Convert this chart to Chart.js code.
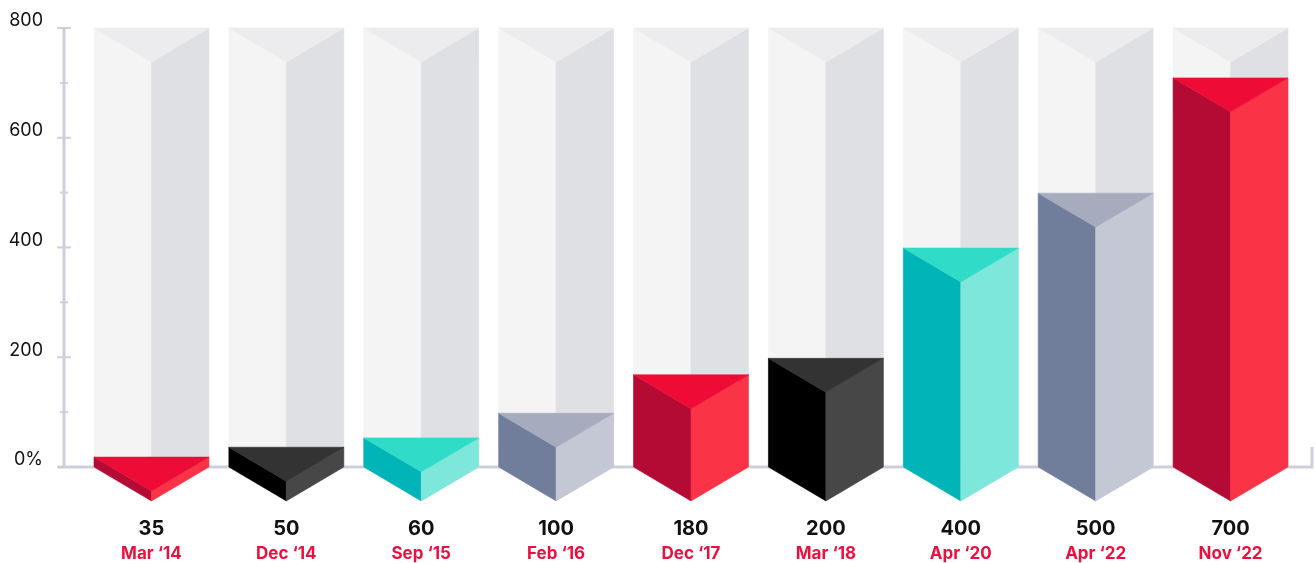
<!DOCTYPE html>
<html>
<head>
<meta charset="utf-8">
<script src="https://cdn.jsdelivr.net/npm/chart.js@4.4.1/dist/chart.umd.min.js"></script>
<style>
  html, body { margin: 0; padding: 0; background: #fff; }
  #wrap { width: 1316px; height: 563px; }
</style>
</head>
<body>
<div id="wrap"><canvas id="prismChart"></canvas></div>
<script>
// labels under each prism
const amounts = ["35", "50", "60", "100", "180", "200", "400", "500", "700"];
const dates = ["Mar \u201814", "Dec \u201814", "Sep \u201815", "Feb \u201816", "Dec \u201817", "Mar \u201818", "Apr \u201820", "Apr \u201822", "Nov \u201822"];
// heights as drawn in the picture
const values = [18, 36, 53, 98, 168, 198, 399, 499, 709];
// grey "empty" column behind every prism
const track = [800, 800, 800, 800, 800, 800, 800, 800, 800];

const axisColor = "#cdd0dc";
const trackColors = { top: "#ececee", left: "#f4f4f5", right: "#dfe0e4" };
const palette = [
  { top: "#ee0c36", left: "#b30b34", right: "#fb3347" },
  { top: "#333333", left: "#000000", right: "#474747" },
  { top: "#30dbc8", left: "#00b4b8", right: "#7ce7da" },
  { top: "#a6abbd", left: "#717e9b", right: "#c4c8d4" }
];

function poly(ctx, pts, color) {
  ctx.beginPath();
  ctx.moveTo(pts[0][0], pts[0][1]);
  for (let i = 1; i < pts.length; i++) ctx.lineTo(pts[i][0], pts[i][1]);
  ctx.closePath();
  ctx.fillStyle = color;
  ctx.strokeStyle = color;
  ctx.lineWidth = 0.6;
  ctx.fill();
  ctx.stroke();
}

function drawPrism(ctx, bar, colors) {
  const p = bar.getProps(["x", "y", "base", "width"], true);
  const l = p.x - p.width / 2, r = p.x + p.width / 2, m = p.x;
  const d = (p.width / 2) * 0.59;
  poly(ctx, [[l, p.y], [m, p.y + d], [m, p.base + d], [l, p.base]], colors.left);
  poly(ctx, [[r, p.y], [m, p.y + d], [m, p.base + d], [r, p.base]], colors.right);
  poly(ctx, [[l, p.y], [r, p.y], [m, p.y + d]], colors.top);
}

const prismPlugin = {
  id: "prisms",
  afterDatasetsDraw(chart) {
    const ctx = chart.ctx;
    const yScale = chart.scales.y;
    const area = chart.chartArea;
    const axisX = area.left - 20;
    const zeroY = yScale.getPixelForValue(0);
    const topY = yScale.getPixelForValue(yScale.max);
    ctx.save();

    // axes
    ctx.strokeStyle = axisColor;
    ctx.lineWidth = 3;
    ctx.beginPath();
    ctx.moveTo(axisX, topY);
    ctx.lineTo(axisX, zeroY);
    ctx.stroke();
    ctx.beginPath();
    ctx.moveTo(axisX - 6, zeroY);
    ctx.lineTo(area.right + 14, zeroY);
    ctx.lineTo(area.right + 14, zeroY - 20);
    ctx.stroke();

    ctx.lineWidth = 2;
    const ticks = yScale.ticks.map(t => t.value);
    ticks.forEach((v, i) => {
      const py = yScale.getPixelForValue(v);
      ctx.beginPath();
      ctx.moveTo(axisX - 7, py);
      ctx.lineTo(axisX + 7, py);
      ctx.stroke();
      if (i > 0) {
        const my = yScale.getPixelForValue((v + ticks[i - 1]) / 2);
        ctx.beginPath();
        ctx.moveTo(axisX - 4, my);
        ctx.lineTo(axisX + 4, my);
        ctx.stroke();
      }
    });

    chart.getDatasetMeta(0).data.forEach(bar => drawPrism(ctx, bar, trackColors));
    chart.getDatasetMeta(1).data.forEach((bar, i) => drawPrism(ctx, bar, palette[i % palette.length]));
    ctx.restore();
  }
};

new Chart(document.getElementById("prismChart"), {
  type: "bar",
  data: {
    labels: amounts,
    datasets: [
      { label: "track", data: track, backgroundColor: "rgba(0,0,0,0)", grouped: false },
      { label: "value", data: values, backgroundColor: "rgba(0,0,0,0)", grouped: false }
    ]
  },
  options: {
    responsive: true,
    maintainAspectRatio: false,
    animation: false,
    layout: { padding: { left: 0, right: 18, top: 28, bottom: 0 } },
    datasets: { bar: { categoryPercentage: 1, barPercentage: 0.852 } },
    plugins: { legend: { display: false }, tooltip: { enabled: false } },
    scales: {
      y: {
        min: 0,
        max: 800,
        afterFit(scale) { scale.width = 84; },
        grid: { display: false, drawTicks: true, tickLength: 41 },
        border: { display: false },
        ticks: {
          stepSize: 200,
          padding: 0,
          labelOffset: -7,
          color: "#111111",
          font: { family: "Inter", size: 18 },
          callback: v => (v === 0 ? "0%" : v)
        }
      },
      x: {
        weight: 0,
        afterFit(scale) { scale.height = 72; },
        grid: { display: false, drawTicks: false },
        border: { display: false },
        ticks: {
          padding: 50,
          color: "#111111",
          font: { family: "Inter", size: 20, weight: "bold" }
        }
      },
      x2: {
        type: "category",
        position: "bottom",
        weight: 1,
        offset: true,
        labels: dates,
        afterFit(scale) { scale.height = 24; },
        grid: { display: false, drawTicks: false },
        border: { display: false },
        ticks: {
          padding: 5,
          color: "#ec0f3d",
          font: { family: "Inter", size: 17, weight: "bold" }
        }
      }
    }
  },
  plugins: [prismPlugin]
});
</script>
</body>
</html>
